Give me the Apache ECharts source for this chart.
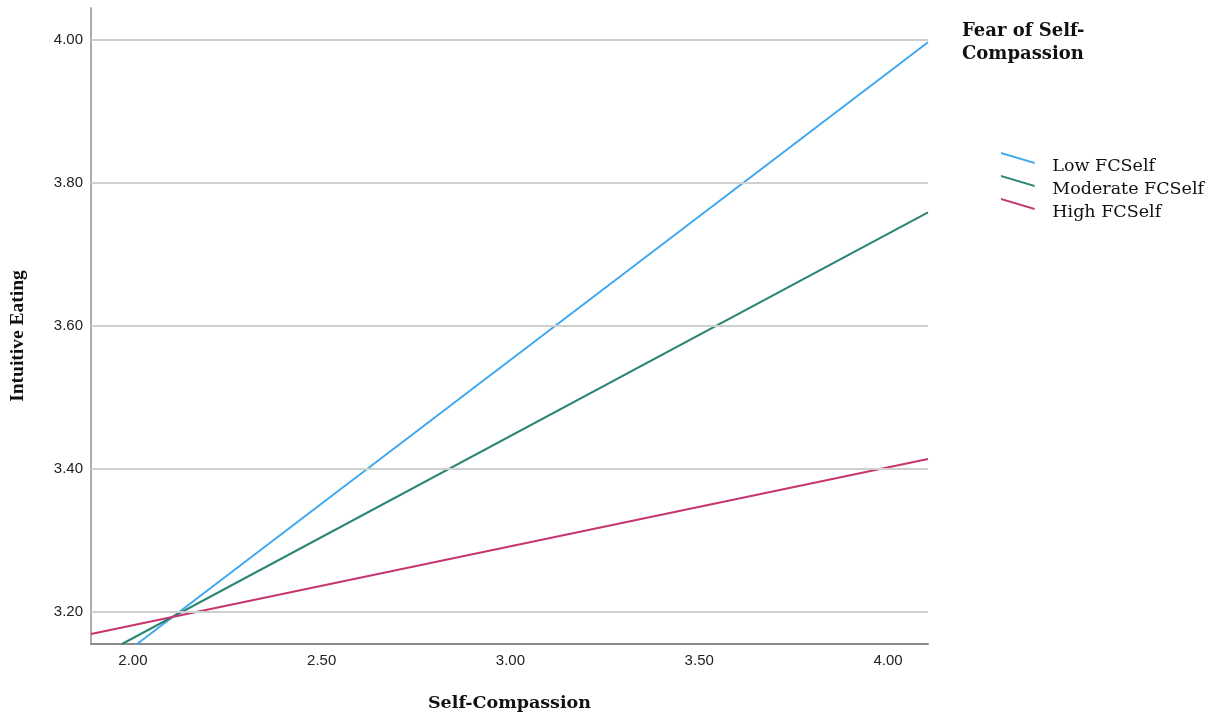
<!DOCTYPE html>
<html>
<head>
<meta charset="utf-8">
<style>html,body{margin:0;padding:0;background:#fff}#c{width:1215px;height:717px}</style>
<script src="https://cdn.jsdelivr.net/npm/echarts@6/dist/echarts.min.js"></script>
</head>
<body>
<div id="c"></div>
<script>
const seriesNames = ['Low FCSelf', 'Moderate FCSelf', 'High FCSelf'];
const lowLine = [[2.011, 3.155], [4.106, 3.997]];
const moderateLine = [[1.971, 3.155], [4.106, 3.759]];
const highLine = [[1.889, 3.169], [4.106, 3.414]];
const xTicks = [2.0, 2.5, 3.0, 3.5, 4.0];
const yTicks = [3.2, 3.4, 3.6, 3.8, 4.0];
const xRange = [1.889, 4.106];
const yRange = [3.155, 4.045];

const colors = ['#3ea8ef', '#2a8577', '#c5356f'];
const chart = echarts.init(document.getElementById('c'));
const serif = 'DejaVu Serif';
const icon = 'path://M0,0 L35,10.5 L35,12.5 L0,2 Z';

chart.setOption({
  animation: false,
  title: {
    text: 'Fear of Self-\nCompassion',
    left: 962, top: 20, padding: 0,
    textStyle: {fontFamily: serif, fontWeight: 'bold', fontSize: 18, lineHeight: 23, color: '#111'}
  },
  legend: {
    orient: 'vertical', left: 1001, top: 152, padding: 0,
    itemWidth: 35, itemHeight: 12, itemGap: 0,
    data: seriesNames.map(n => ({name: n, icon: icon})),
    formatter: n => '{a|' + n + '}',
    textStyle: {
      fontFamily: serif, fontSize: 17.5, color: '#111',
      rich: {a: {fontFamily: serif, fontSize: 17.5, color: '#111', padding: [16, 0, 0, 12]}}
    }
  },
  grid: {left: 90, right: 287, top: 8, bottom: 73},
  xAxis: {
    type: 'value', min: xRange[0], max: xRange[1],
    name: 'Self-Compassion', nameLocation: 'middle', nameGap: 50,
    nameTextStyle: {fontFamily: serif, fontWeight: 'bold', fontSize: 17.5, color: '#111'},
    axisLine: {show: true, lineStyle: {color: '#8a8a8a', width: 2}},
    axisTick: {show: false},
    splitLine: {show: false},
    axisLabel: {customValues: xTicks, formatter: v => v.toFixed(2), fontFamily: 'Liberation Sans', fontSize: 15, color: '#222', margin: 9}
  },
  yAxis: {
    type: 'value', min: yRange[0], max: yRange[1],
    name: 'Intuitive Eating', nameLocation: 'middle', nameGap: 63,
    nameTextStyle: {fontFamily: 'Liberation Serif', fontWeight: 'bold', fontSize: 19.5, color: '#111', padding: [0, 20, 0, 0]},
    axisLine: {show: true, lineStyle: {color: '#ababab', width: 2}},
    axisTick: {show: false},
    splitLine: {show: false},
    axisLabel: {customValues: yTicks, formatter: v => v.toFixed(2), fontFamily: 'Liberation Sans', fontSize: 15, color: '#222', margin: 8}
  },
  series: [
    {
      type: 'line', name: '__grid', data: [], silent: true, z: 1,
      markLine: {
        silent: true, symbol: 'none', animation: false,
        label: {show: false},
        lineStyle: {color: '#cfcfcf', width: 2, type: 'solid'},
        data: yTicks.map(v => ({yAxis: v}))
      }
    },
    {name: seriesNames[0], type: 'line', data: lowLine, showSymbol: false, clip: true, z: 3, lineStyle: {color: colors[0], width: 2}, itemStyle: {color: colors[0]}},
    {name: seriesNames[1], type: 'line', data: moderateLine, showSymbol: false, clip: true, z: 3, lineStyle: {color: colors[1], width: 2}, itemStyle: {color: colors[1]}},
    {name: seriesNames[2], type: 'line', data: highLine, showSymbol: false, clip: true, z: 3, lineStyle: {color: colors[2], width: 2}, itemStyle: {color: colors[2]}}
  ]
});
</script>
</body>
</html>
